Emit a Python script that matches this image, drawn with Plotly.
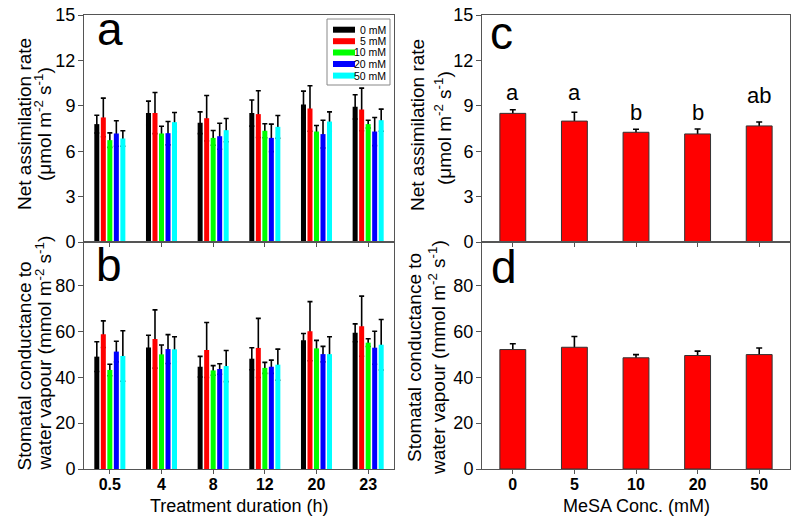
import plotly.graph_objects as go

W, H = 800, 524
FONT = "Arial, 'Liberation Sans', sans-serif"

# ---------------- data ----------------
durations = ["0.5", "4", "8", "12", "20", "23"]
series_names = ["0 mM", "5 mM", "10 mM", "20 mM", "50 mM"]
conc = ["0", "5", "10", "20", "50"]

# Panel a: net assimilation rate (µmol m-2 s-1), means and upper SE
a_0mM = [7.79, 8.52, 7.88, 8.52, 9.09, 8.93]
a_5mM = [8.23, 8.52, 8.18, 8.45, 8.82, 8.76]
a_10mM = [6.73, 7.17, 6.88, 7.35, 7.30, 7.79]
a_20mM = [7.17, 7.19, 6.99, 6.88, 7.13, 7.30]
a_50mM = [6.84, 7.92, 7.39, 7.61, 7.96, 8.05]
a_err_0mM = [0.59, 0.79, 0.72, 0.86, 0.88, 0.80]
a_err_5mM = [1.28, 1.36, 1.50, 1.54, 1.50, 1.41]
a_err_10mM = [0.48, 0.48, 0.49, 0.46, 0.40, 0.26]
a_err_20mM = [0.84, 0.77, 0.86, 0.91, 0.92, 0.93]
a_err_50mM = [0.51, 0.64, 0.77, 0.75, 0.64, 0.73]

# Panel b: stomatal conductance (mmol m-2 s-1)
b_0mM = [49.0, 53.0, 44.6, 48.1, 56.1, 59.4]
b_5mM = [58.8, 56.7, 51.9, 52.8, 60.1, 62.3]
b_10mM = [43.2, 50.0, 43.0, 44.1, 52.6, 55.1]
b_20mM = [51.2, 52.3, 43.6, 44.6, 50.1, 52.9]
b_50mM = [49.3, 52.2, 44.9, 45.5, 50.1, 54.2]
b_err_0mM = [6.5, 5.3, 4.5, 4.8, 3.0, 3.9]
b_err_5mM = [5.8, 12.7, 12.0, 12.9, 12.9, 13.1]
b_err_10mM = [2.5, 4.1, 2.1, 2.4, 3.5, 1.7]
b_err_20mM = [4.5, 6.3, 2.3, 2.9, 3.4, 7.2]
b_err_50mM = [11.0, 5.5, 6.8, 6.8, 7.6, 11.0]

# Panel c / d: averaged over time
c_mean = [8.50, 7.99, 7.25, 7.14, 7.67]
c_err = [0.24, 0.58, 0.20, 0.33, 0.26]
d_mean = [52.1, 53.1, 48.5, 49.5, 49.9]
d_err = [2.5, 4.7, 1.4, 1.9, 2.9]

sig_letters = ["a", "a", "b", "b", "ab"]

# ---------------- styling ----------------
colors = ["#000000", "#FF0000", "#00FF00", "#0000FF", "#00FFFF"]
sig_y = [9.87, 9.87, 8.56, 8.53, 9.71]  # label heights (data units)


def px(x):
    return x / W


def py(y):
    return 1 - y / H


fig = go.Figure()


def add_bars(xa, ya, cats, means, errs, color, group, width=None,
             outline_w=0, outline_c="#333333", capw=2.5):
    # error bar carrier (transparent) drawn first, real bar drawn on top
    fig.add_trace(go.Bar(
        x=cats, y=means, xaxis=xa, yaxis=ya, offsetgroup=group, width=width,
        marker=dict(color="rgba(0,0,0,0)", line=dict(width=0)),
        error_y=dict(type="data", array=errs, symmetric=True, color="black",
                     thickness=1.6, width=capw),
        showlegend=False, hoverinfo="skip"))
    fig.add_trace(go.Bar(
        x=cats, y=means, xaxis=xa, yaxis=ya, offsetgroup=group, width=width,
        marker=dict(color=color, line=dict(width=outline_w, color=outline_c)),
        showlegend=False))


a_series = [(a_0mM, a_err_0mM), (a_5mM, a_err_5mM), (a_10mM, a_err_10mM),
            (a_20mM, a_err_20mM), (a_50mM, a_err_50mM)]
b_series = [(b_0mM, b_err_0mM), (b_5mM, b_err_5mM), (b_10mM, b_err_10mM),
            (b_20mM, b_err_20mM), (b_50mM, b_err_50mM)]

for i, (m, e) in enumerate(a_series):
    add_bars("x", "y", durations, m, e, colors[i], "a%d" % i)
for i, (m, e) in enumerate(b_series):
    add_bars("x2", "y2", durations, m, e, colors[i], "b%d" % i)

add_bars("x3", "y3", conc, c_mean, c_err, colors[1], "c", width=0.42,
         outline_w=1, capw=3)
add_bars("x4", "y4", conc, d_mean, d_err, colors[1], "d", width=0.42,
         outline_w=1, capw=3)

AX = "#555555"
common_x = dict(type="category", showline=True, mirror=True, linecolor=AX,
                linewidth=1, ticks="outside", ticklen=4, tickcolor=AX,
                showgrid=False, zeroline=False, automargin=False,
                ticklabelstandoff=-3,
                tickfont=dict(family=FONT, size=16, color="black", weight="bold"))
common_y = dict(showline=True, mirror=True, linecolor=AX, linewidth=1,
                ticks="outside", ticklen=5, tickcolor=AX, showgrid=False,
                zeroline=False, automargin=False, ticklabelstandoff=-1,
                tickfont=dict(family=FONT, size=18, color="black"))

fig.update_layout(
    width=W, height=H, margin=dict(l=0, r=0, t=0, b=0, pad=0, autoexpand=False),
    paper_bgcolor="white", plot_bgcolor="white",
    barmode="group", bargap=0.37, bargroupgap=0.23,
    font=dict(family=FONT, color="black"),
    xaxis=dict(common_x, domain=[px(84), px(394)], anchor="y", showticklabels=False),
    yaxis=dict(common_y, domain=[py(242), py(15)], anchor="x", range=[0, 15], dtick=3),
    xaxis2=dict(common_x, domain=[px(84), px(394)], anchor="y2"),
    yaxis2=dict(common_y, domain=[py(469), py(242)], anchor="x2", range=[0, 99], dtick=20),
    xaxis3=dict(common_x, domain=[px(482), px(790)], anchor="y3", showticklabels=False,
                range=[-0.5, 4.5]),
    yaxis3=dict(common_y, domain=[py(242), py(15)], anchor="x3", range=[0, 15], dtick=3),
    xaxis4=dict(common_x, domain=[px(482), px(790)], anchor="y4", range=[-0.5, 4.5]),
    yaxis4=dict(common_y, domain=[py(469), py(242)], anchor="x4", range=[0, 99], dtick=20),
)

ann = []
# panel letters
for letter, xr, yr, xd, yd in [("a", "x", "y", 0.035, 0.94), ("b", "x2", "y2", 0.032, 0.90),
                               ("c", "x3", "y3", 0.02, 0.92), ("d", "x4", "y4", 0.024, 0.89)]:
    ann.append(dict(text=letter, xref=xr + " domain", yref=yr + " domain", x=xd, y=yd,
                    xanchor="left", yanchor="middle", showarrow=False,
                    font=dict(family=FONT, size=46, color="black")))

# significance letters in panel c (x given as category index)
for idx, (lab, yv) in enumerate(zip(sig_letters, sig_y)):
    ann.append(dict(text=lab, xref="x3", yref="y3", x=idx, y=yv, showarrow=False,
                    xanchor="center", yanchor="middle",
                    font=dict(family=FONT, size=22, color="black")))

TF = dict(family=FONT, size=19, color="black")
# y-axis titles
ytitles = [
    ("Net assimilation rate", 24, 124, "middle"),
    ("(μmol m<sup>-2</sup> s<sup>-1</sup>)", 43, 124, "middle"),
    ("Stomatal conductance to", 24, 473, "bottom"),
    ("water vapour (mmol m<sup>-2</sup> s<sup>-1</sup>)", 43, 473, "bottom"),
    ("Net assimilation rate", 417, 125, "middle"),
    ("(μmol m<sup>-2</sup> s<sup>-1</sup>)", 443, 128, "middle"),
    ("Stomatal conductance to", 414, 357, "middle"),
    ("water vapour (mmol m<sup>-2</sup> s<sup>-1</sup>)", 437, 358, "middle"),
]
for t, x, y, ya in ytitles:
    ann.append(dict(text=t, xref="paper", yref="paper", x=px(x), y=py(y), textangle=-90,
                    xanchor="center", yanchor=ya, showarrow=False, font=TF))

# x-axis titles
XF = dict(family=FONT, size=18, color="black")
ann.append(dict(text="Treatment duration (h)", xref="paper", yref="paper", x=px(239),
                y=py(506), xanchor="center", yanchor="middle", showarrow=False, font=XF))
ann.append(dict(text="MeSA Conc. (mM)", xref="paper", yref="paper", x=px(636),
                y=py(506), xanchor="center", yanchor="middle", showarrow=False, font=XF))

# legend (drawn manually, Origin style)
shapes = [dict(type="rect", xref="paper", yref="paper", x0=px(327), x1=px(390),
               y0=py(85), y1=py(19), line=dict(color="#888888", width=1),
               fillcolor="white", layer="above")]
row_y = [29.7, 41.2, 52.5, 64.0, 75.6]
for name, col, ry in zip(series_names, colors, row_y):
    shapes.append(dict(type="rect", xref="paper", yref="paper", x0=px(333), x1=px(355),
                       y0=py(ry + 3), y1=py(ry - 3), line=dict(width=0), fillcolor=col,
                       layer="above"))
    ann.append(dict(text=name, xref="paper", yref="paper", x=px(388), y=py(ry),
                    xanchor="right", yanchor="middle", showarrow=False,
                    font=dict(family=FONT, size=10.5, color="black")))

fig.update_layout(annotations=ann, shapes=shapes)
fig.write_html("out.html", config={"displayModeBar": False},
               post_script="document.body.style.margin='0';")
